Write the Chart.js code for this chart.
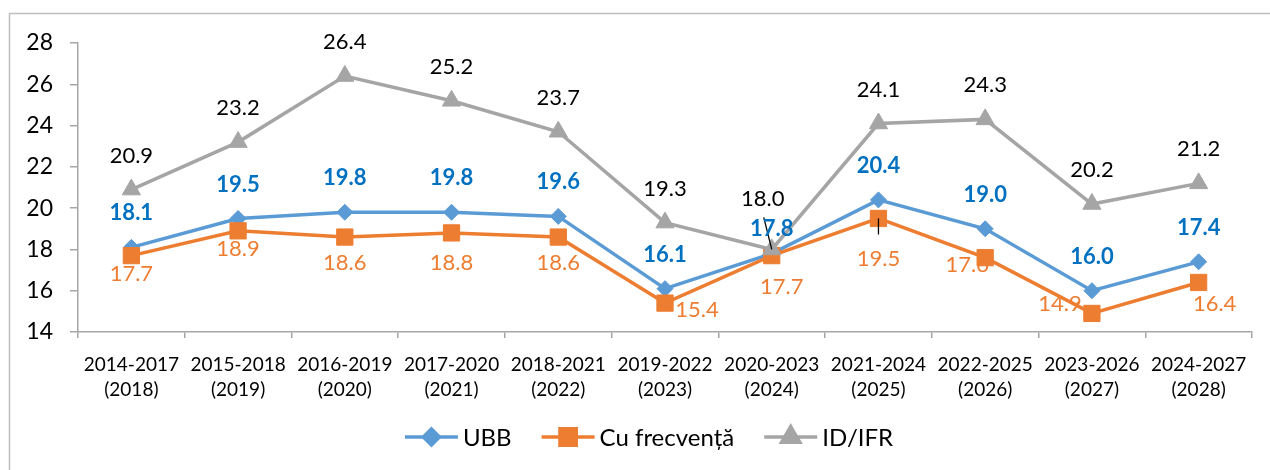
<!DOCTYPE html>
<html>
<head>
<meta charset="utf-8">
<script src="https://cdn.jsdelivr.net/npm/chart.js@4/dist/chart.umd.min.js"></script>
<style>
  html, body { margin: 0; padding: 0; background: #fff; }
  canvas { display: block; }
</style>
</head>
<body>
<canvas id="chart" width="1270" height="470"></canvas>
<script>
// date
const periods = [
  ['2014-2017', '(2018)'], ['2015-2018', '(2019)'], ['2016-2019', '(2020)'],
  ['2017-2020', '(2021)'], ['2018-2021', '(2022)'], ['2019-2022', '(2023)'],
  ['2020-2023', '(2024)'], ['2021-2024', '(2025)'], ['2022-2025', '(2026)'],
  ['2023-2026', '(2027)'], ['2024-2027', '(2028)'],
];
const ubb = [18.1, 19.5, 19.8, 19.8, 19.6, 16.1, 17.8, 20.4, 19.0, 16.0, 17.4];
const cuFrecventa = [17.7, 18.9, 18.6, 18.8, 18.6, 15.4, 17.7, 19.5, 17.6, 14.9, 16.4];
const idIfr = [20.9, 23.2, 26.4, 25.2, 23.7, 19.3, 18.0, 24.1, 24.3, 20.2, 21.2];
const yTicks = [14, 16, 18, 20, 22, 24, 26, 28];

const FONT = 'Lato, "Open Sans", sans-serif';

// deplasarea etichetelor fata de punct (px)
const labelShift = {
  0: i => (i === 6 ? [0, -25] : [0, -34]),
  1: i => ({ 1: [0, 18], 2: [0, 26], 3: [0, 30], 4: [0, 26], 5: [32, 7], 6: [10, 31],
             7: [0, 40], 8: [-18, 7], 9: [-32, -10], 10: [16, 21] }[i] || [0, 18]),
  2: i => (i === 6 ? [-9, -51] : [0, -34]),
};
// linii de legatura eticheta -> punct
const leaders = [
  { ds: 2, i: 6, from: [-8, -32], to: [0, 0] },
  { ds: 1, i: 7, from: [0, 0], to: [0, 16] },
];

const labelStyle = [
  { color: '#0070C0', weight: 'bold' },
  { color: '#ED7D31', weight: 'normal' },
  { color: '#000000', weight: 'normal' },
];

const valueLabels = {
  id: 'valueLabels',
  afterDatasetsDraw(chart) {
    const ctx = chart.ctx;
    ctx.save();
    ctx.strokeStyle = '#000';
    ctx.lineWidth = 1.3;
    leaders.forEach(l => {
      const p = chart.getDatasetMeta(l.ds).data[l.i];
      ctx.beginPath();
      ctx.moveTo(p.x + l.from[0], p.y + l.from[1]);
      ctx.lineTo(p.x + l.to[0], p.y + l.to[1]);
      ctx.stroke();
    });
    ctx.textAlign = 'center';
    ctx.textBaseline = 'middle';
    chart.data.datasets.forEach((ds, d) => {
      const st = labelStyle[d];
      ctx.fillStyle = st.color;
      ctx.font = `${st.weight} 22px ${FONT}`;
      chart.getDatasetMeta(d).data.forEach((p, i) => {
        const [dx, dy] = labelShift[d](i);
        ctx.fillText(ds.data[i].toFixed(1), p.x + dx, p.y + dy);
      });
    });
    ctx.restore();
  },
};

const frameAndLegend = {
  id: 'frameAndLegend',
  beforeDraw(chart) {
    const ctx = chart.ctx;
    ctx.save();
    ctx.strokeStyle = '#BFBFBF';
    ctx.lineWidth = 1.5;
    ctx.strokeRect(9.5, 13.5, 1400, 600);
    ctx.restore();
  },
  afterDraw(chart) {
    const ctx = chart.ctx;
    const y = 437;
    ctx.save();
    ctx.font = `24px ${FONT}`;
    ctx.textBaseline = 'middle';
    const items = chart.data.datasets.map(ds => ({ ds, w: ctx.measureText(ds.label).width }));
    const total = items.reduce((s, it) => s + 58 + it.w, 0) + 30 * (items.length - 1);
    let x = 649 - total / 2;
    items.forEach(({ ds, w }) => {
      ctx.strokeStyle = ds.borderColor;
      ctx.lineWidth = 3.5;
      ctx.beginPath();
      ctx.moveTo(x, y);
      ctx.lineTo(x + 53, y);
      ctx.stroke();
      ctx.fillStyle = ds.pointBackgroundColor;
      ctx.strokeStyle = ds.pointBorderColor;
      Chart.helpers.drawPoint(ctx, {
        pointStyle: ds.pointStyle, radius: ds.pointRadius, borderWidth: 1, rotation: 0,
      }, x + 26.5, y);
      ctx.fillStyle = '#000';
      ctx.fillText(ds.label, x + 58, y + 1);
      x += 58 + w + 30;
    });
    ctx.restore();
  },
};

function series(label, data, color, style, radius, order) {
  return {
    label, data, order,
    borderColor: color,
    backgroundColor: color,
    pointBackgroundColor: color,
    pointBorderColor: color,
    borderWidth: 3.5,
    pointStyle: style,
    pointRadius: radius,
    pointBorderWidth: 1,
    pointHoverRadius: radius,
    tension: 0,
  };
}

new Chart(document.getElementById('chart'), {
  type: 'line',
  data: {
    labels: periods,
    datasets: [
      series('UBB', ubb, '#5B9BD5', 'rectRot', 8, 2),
      series('Cu frecvență', cuFrecventa, '#ED7D31', 'rect', 11.5, 1),
      series('ID/IFR', idIfr, '#A5A5A5', 'triangle', 10.5, 0),
    ],
  },
  options: {
    responsive: false,
    animation: false,
    events: [],
    layout: { padding: { left: 0, right: 18, top: 43, bottom: 58 } },
    plugins: { legend: { display: false }, tooltip: { enabled: false } },
    scales: {
      x: {
        offset: true,
        grid: { offset: true, drawOnChartArea: false, drawTicks: true, tickLength: 6, color: '#A6A6A6', lineWidth: 1.5 },
        border: { color: '#A6A6A6', width: 1.5 },
        ticks: {
          color: '#000', padding: 14, maxRotation: 0, autoSkip: false,
          font: { family: FONT, size: 19, lineHeight: 1.32 },
        },
        afterFit(scale) { scale.height = 80; },
      },
      y: {
        min: 14, max: 28,
        afterBuildTicks(scale) { scale.ticks = yTicks.map(v => ({ value: v })); },
        grid: { drawOnChartArea: false, drawTicks: true, tickLength: 8, color: '#A6A6A6', lineWidth: 1.5 },
        border: { color: '#A6A6A6', width: 1.5 },
        ticks: { color: '#000', padding: 17, font: { family: FONT, size: 23 } },
        afterFit(scale) { scale.width = 78; },
      },
    },
  },
  plugins: [frameAndLegend, valueLabels],
});
</script>
</body>
</html>
